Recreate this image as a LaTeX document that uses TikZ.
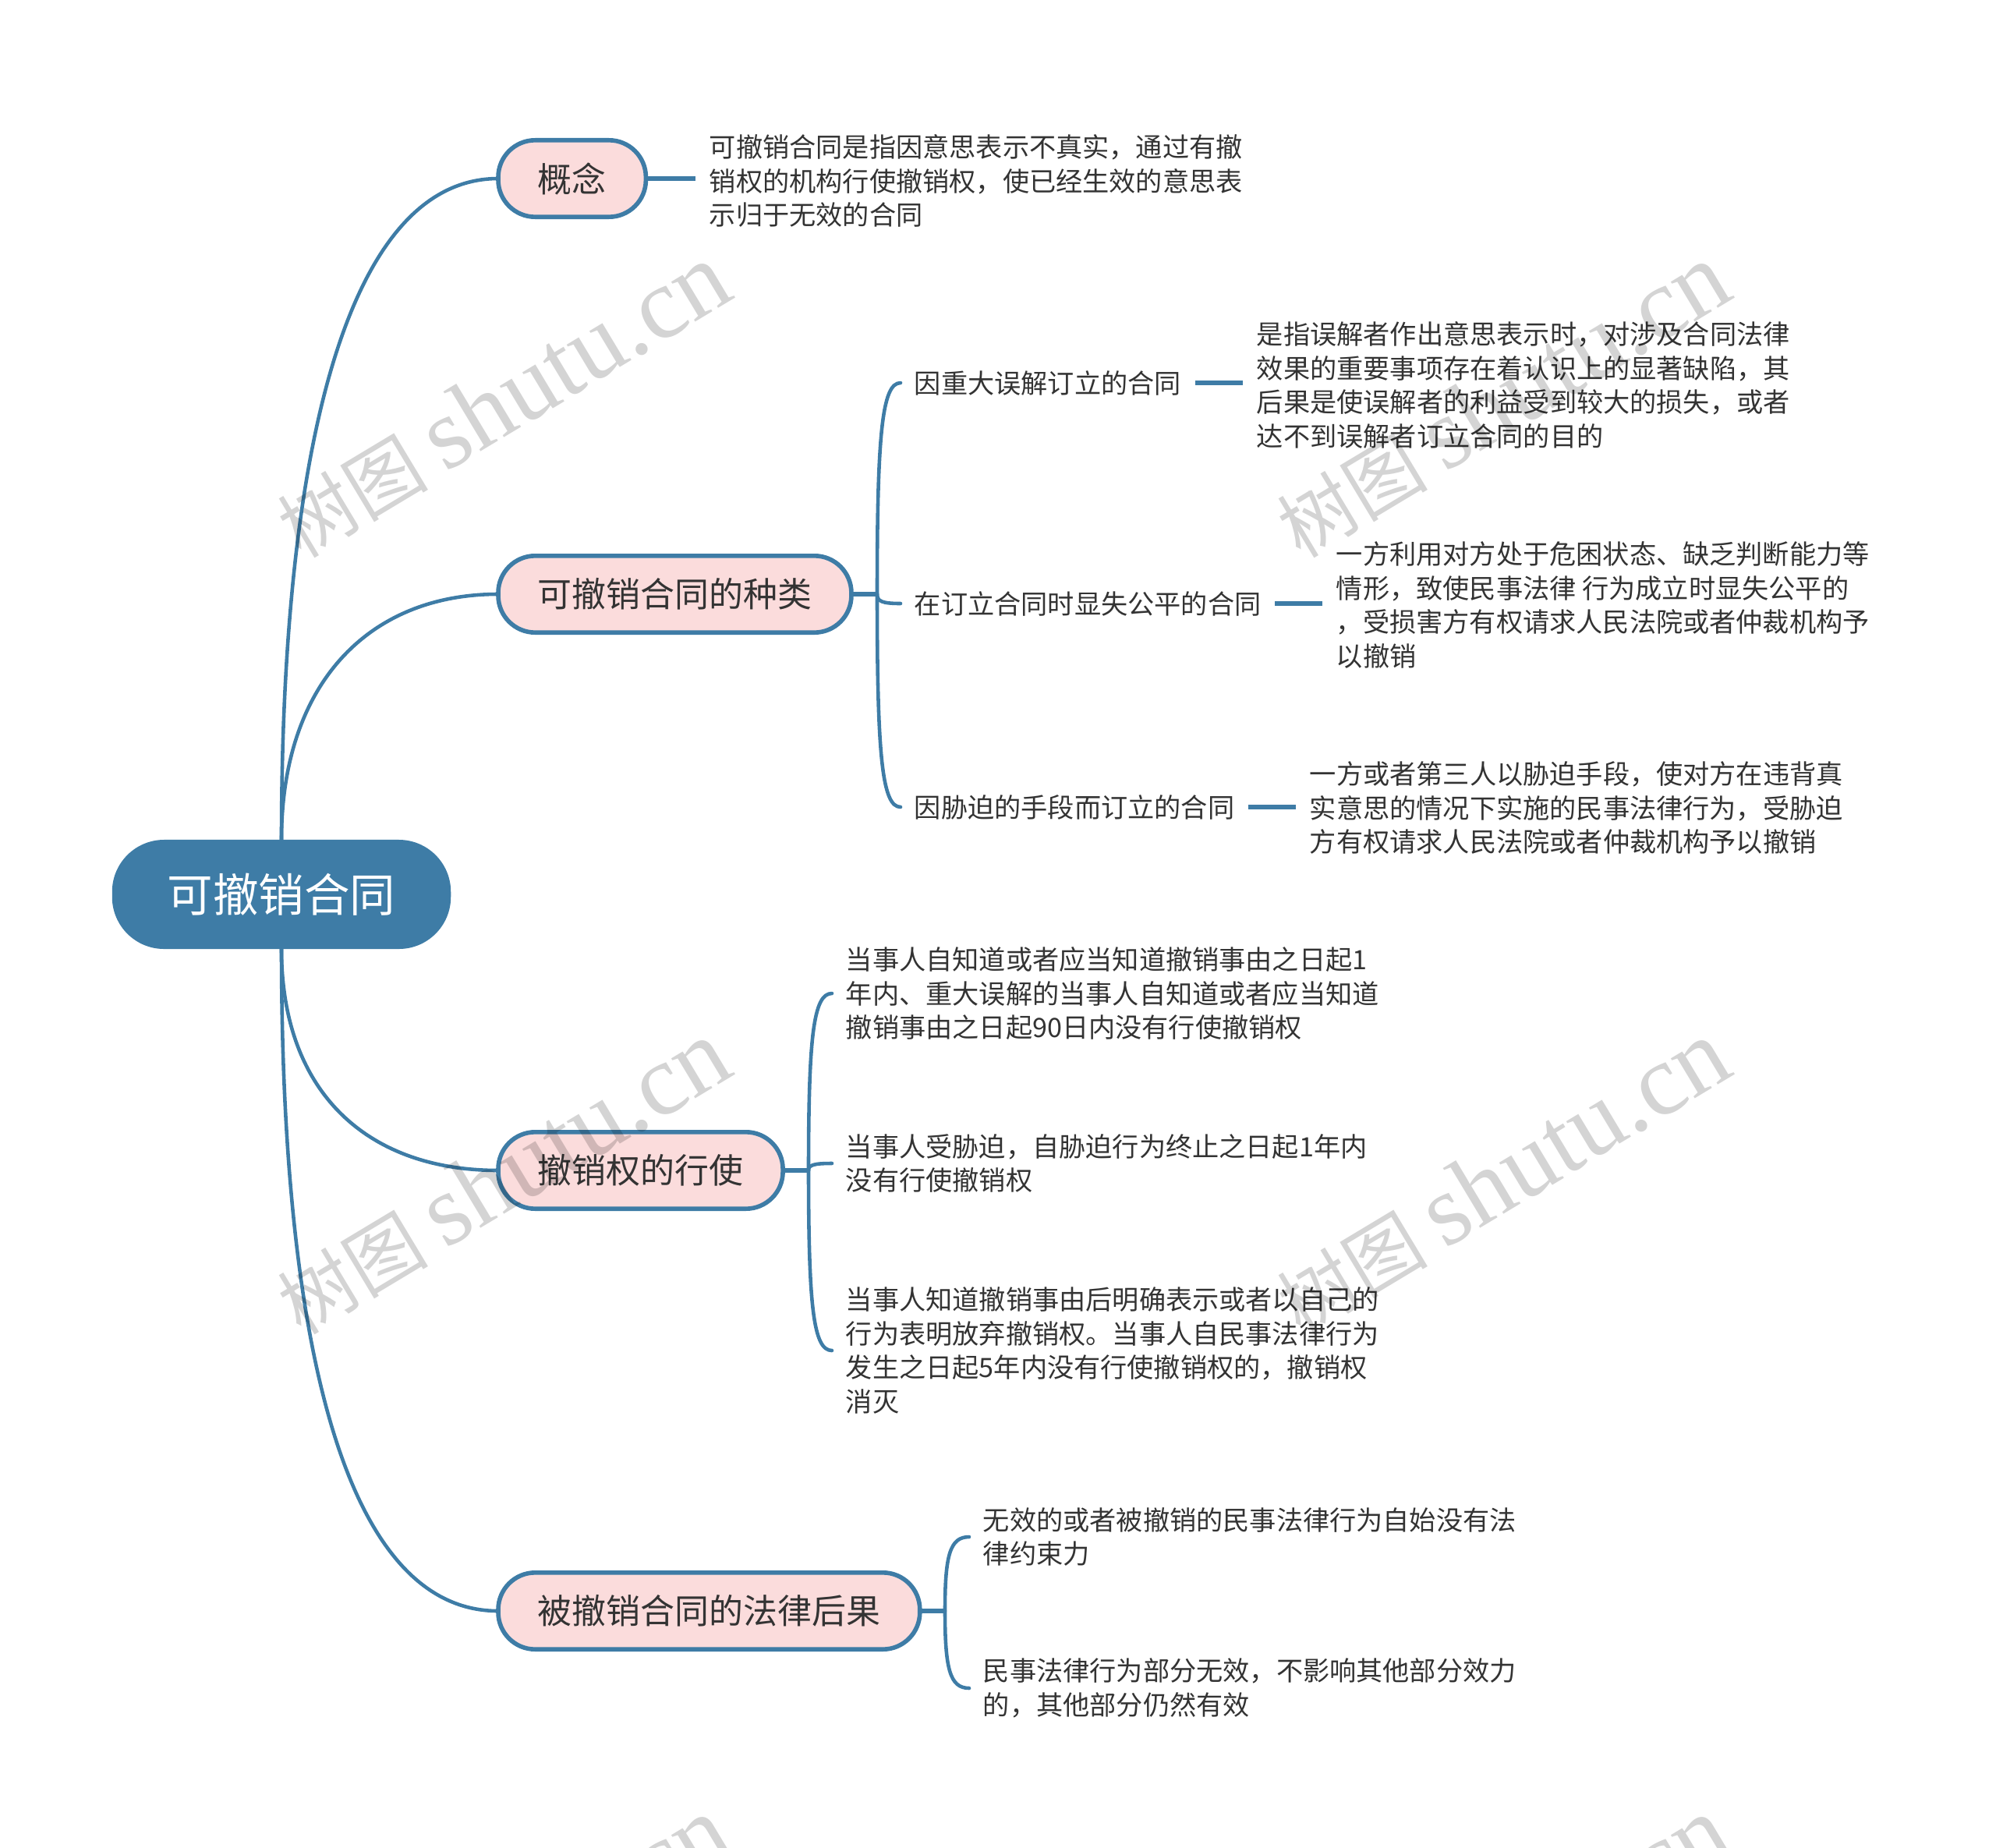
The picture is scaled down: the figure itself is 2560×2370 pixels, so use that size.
\documentclass[tikz,border=0pt]{standalone}
\usepackage{fontspec}
\setmainfont{Noto Sans CJK SC}
\newfontfamily\markfont{Liberation Serif}
\usetikzlibrary{calc}
\definecolor{mapblue}{HTML}{3E7CA6}
\definecolor{mappink}{HTML}{FBDCDC}
\definecolor{mapink}{HTML}{333333}
\tikzstyle{link}=[draw=mapblue,line width=2.6pt,line cap=round,line join=round]
\tikzstyle{stub}=[link,line width=3pt,line cap=butt]
\tikzstyle{rootbox}=[fill=mapblue,text=white,rounded corners=38pt,minimum height=79.7pt,inner xsep=40.4pt,inner ysep=0pt,outer sep=0pt,font=\fontsize{33.3}{40}\selectfont]
\tikzstyle{topic}=[anchor=west,draw=mapblue,fill=mappink,text=mapink,line width=3.2pt,rounded corners=27pt,minimum height=56pt,inner xsep=28.9pt,inner ysep=0pt,outer sep=0pt,font=\fontsize{25}{30}\selectfont]
\tikzstyle{note}=[anchor=west,align=left,text=mapink,inner xsep=10.2pt,inner ysep=0pt,outer sep=0pt,font=\fontsize{19.46}{24.8}\selectfont]
\tikzstyle{wmark}=[text=black,text opacity=0.17,rotate=31,inner sep=0pt,font=\fontsize{55}{80}\selectfont]

\begin{document}
\begin{tikzpicture}[x=0.02cm,y=-0.02cm]
    \useasboundingbox (0,0) rectangle (2560,2370);
    % root and topics
    \node[rootbox] (root) at (361,1147) {可撤销合同};
    \node[topic] (idea) at (639,229) {概念};
    \node[topic] (kinds) at (639,762) {可撤销合同的种类};
    \node[topic] (use) at (639,1501) {撤销权的行使};
    \node[topic] (result) at (639,2066) {被撤销合同的法律后果};
    %
    \node[note] (ideatext) at (892,232) {可撤销合同是指因意思表示不真实，通过有撤\\销权的机构行使撤销权，使已经生效的意思表\\示归于无效的合同};
    % kinds
    \node[note] (mistake) at (1155,491) {因重大误解订立的合同};
    \node[note] (unfair) at (1155,774) {在订立合同时显失公平的合同};
    \node[note] (duress) at (1155,1035) {因胁迫的手段而订立的合同};
    \node[note] (mistaketext) at (1594,494) {是指误解者作出意思表示时，对涉及合同法律\\效果的重要事项存在着认识上的显著缺陷，其\\后果是使误解者的利益受到较大的损失，或者\\达不到误解者订立合同的目的};
    \node[note] (unfairtext) at (1696,776) {一方利用对方处于危困状态、缺乏判断能力等\\情形，致使民事法律 行为成立时显失公平的\\，受损害方有权请求人民法院或者仲裁机构予\\以撤销};
    \node[note] (duresstext) at (1662,1036) {一方或者第三人以胁迫手段，使对方在违背真\\实意思的情况下实施的民事法律行为，受胁迫\\方有权请求人民法院或者仲裁机构予以撤销};
    % use
    \node[note] (useA) at (1067,1274) {当事人自知道或者应当知道撤销事由之日起1\\年内、重大误解的当事人自知道或者应当知道\\撤销事由之日起90日内没有行使撤销权};
    \node[note] (useB) at (1067,1492) {当事人受胁迫，自胁迫行为终止之日起1年内\\没有行使撤销权};
    \node[note] (useC) at (1067,1732) {当事人知道撤销事由后明确表示或者以自己的\\行为表明放弃撤销权。当事人自民事法律行为\\发生之日起5年内没有行使撤销权的，撤销权\\消灭};
    % result
    \node[note] (resultA) at (1243,1971) {无效的或者被撤销的民事法律行为自始没有法\\律约束力};
    \node[note] (resultB) at (1243,2165) {民事法律行为部分无效，不影响其他部分效力\\的，其他部分仍然有效};
    %
    \coordinate (kindsfork) at (1125,762);
    \coordinate (usefork) at (1037,1501);
    \coordinate (resultfork) at (1212,2066);
    %
    \draw[link] (root.north) .. controls (361,560) and (450,229) .. (idea.west);
    \draw[link] (root.north) .. controls (361,880) and (470,762) .. (kinds.west);
    \draw[link] (root.south) .. controls (361,1400) and (470,1501) .. (use.west);
    \draw[link] (root.south) .. controls (361,1750) and (450,2066) .. (result.west);
    \draw[stub] (idea.east)--(idea.east-|ideatext.west);
    \draw[stub] (kinds.east)--(kindsfork);
    \draw[stub] (use.east)--(usefork);
    \draw[stub] (result.east)--(resultfork);
    \foreach \fork/\kid in {kindsfork/mistake,kindsfork/unfair,kindsfork/duress,usefork/useA,usefork/useB,usefork/useC,resultfork/resultA,resultfork/resultB}
        \draw[link] (\fork) .. controls ($(\fork)!0.75!(\fork|-\kid.west)$) and ($(\fork|-\kid.west)!0.2!(\kid.west)$) .. (\kid.west);
    \draw[stub] (mistake.east)--(mistake.east-|mistaketext.west);
    \draw[stub] (unfair.east)--(unfair.east-|unfairtext.west);
    \draw[stub] (duress.east)--(duress.east-|duresstext.west);
    % watermark
    \begin{scope}
    \clip (0,0) rectangle (2560,2370);
    \foreach \wx/\wy/\wname in {645/514/wa,1927/514/wb,645/1510/wc,1927/1510/wd,645/2506/we,1927/2506/wf}
        \node[wmark] (\wname) at (\wx,\wy) {树图 {\markfont\fontsize{74}{80}\selectfont shutu.cn}};
    \end{scope}
\end{tikzpicture}
\end{document}
